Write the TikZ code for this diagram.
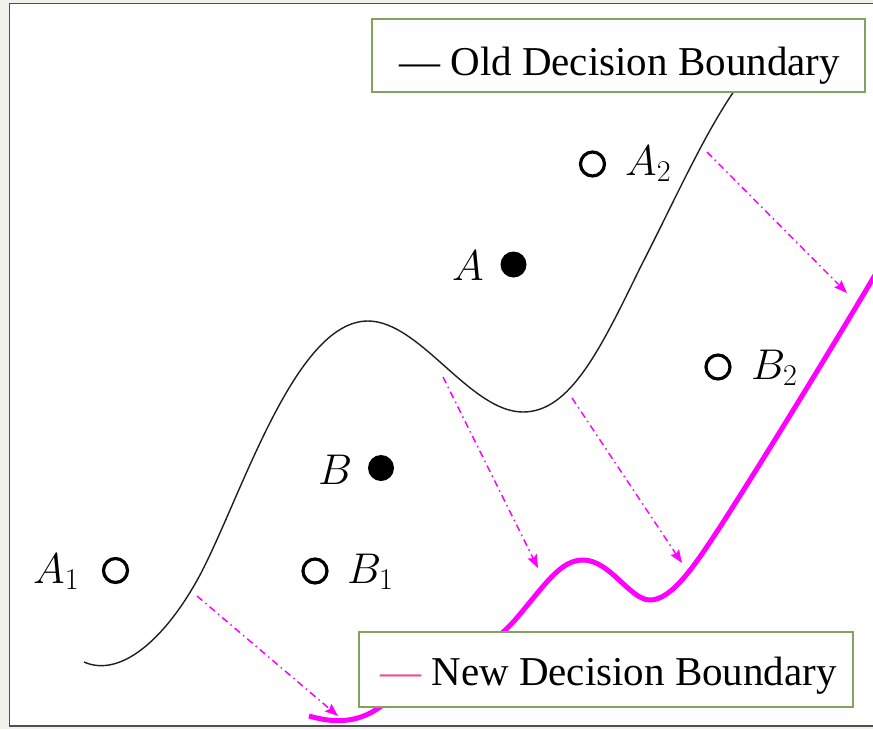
\RequirePackage{fix-cm}
\documentclass[tikz,border=0pt]{standalone}
\usepackage{fontspec}
\newfontfamily\legfont{Liberation Serif}
\usetikzlibrary{arrows.meta}
\definecolor{mag}{RGB}{255,0,255}
\definecolor{legpink}{RGB}{236,72,160}
\definecolor{leggreen}{RGB}{130,162,95}
\definecolor{beige}{RGB}{243,241,236}
\definecolor{framegray}{RGB}{80,80,80}
\begin{document}
\begin{tikzpicture}[x=1pt,y=-1pt,
  lab/.style={inner sep=0pt, font=\fontsize{43}{50}\selectfont},
  opendot/.style={circle, draw=black, line width=3.2pt, minimum size=24pt, inner sep=0pt, fill=white},
  filldot/.style={circle, fill=black, minimum size=26pt, inner sep=0pt},
  oldcurve/.style={line width=1.4pt, draw=black!88},
  newcurve/.style={line width=5pt, draw=mag},
  projarrow/.style={draw=mag, line width=1.5pt, dash pattern=on 7pt off 4pt on 1.5pt off 4pt,
     -{Stealth[length=13pt,width=10pt,inset=2pt]}},
  legbox/.style={draw=leggreen, line width=1.6pt, fill=white, inner sep=0pt},
  legtext/.style={inner sep=0pt, font=\legfont\fontsize{41}{48}\selectfont}
]
\useasboundingbox (0,0) rectangle (873,729);
% background and frame
\fill[beige] (0,0) rectangle (873,729);
\fill[white] (9.5,3.5) rectangle (873,726);
\draw[framegray, line width=1.6pt] (873,3.5) -- (9.5,3.5) -- (9.5,726) -- (873,726);

% old decision boundary
\draw[oldcurve] (84,662) .. controls (120,678) and (165,640) .. (200,575)
  .. controls (242,495) and (295,321) .. (368,321)
  .. controls (420,321) and (470,412) .. (523,412)
  .. controls (570,412) and (600,350) .. (640,268)
  .. controls (680,190) and (710,120) .. (748,72);

% new decision boundary
\draw[newcurve] (309,716) .. controls (330,722) and (355,725) .. (380,707)
  .. controls (420,680) and (480,660) .. (515,620)
  .. controls (545,585) and (560,560) .. (583,560)
  .. controls (610,560) and (630,600) .. (650,600)
  .. controls (672,600) and (695,565) .. (720,527)
  .. controls (760,465) and (840,335) .. (885,258);

% projection arrows
\coordinate (s1) at (197,596); \coordinate (t1) at (338,716);
\coordinate (s2) at (443,377); \coordinate (t2) at (538,568);
\coordinate (s3) at (572,398); \coordinate (t3) at (682,563);
\coordinate (s4) at (707,152); \coordinate (t4) at (847,293);
\draw[projarrow] (s1) -- (t1);
\draw[projarrow] (s2) -- (t2);
\draw[projarrow] (s3) -- (t3);
\draw[projarrow] (s4) -- (t4);

% points
\node[opendot] (cA1) at (115.5,570.5) {};
\node[opendot] (cB1) at (315,571) {};
\node[opendot] (cA2) at (592.5,164) {};
\node[opendot] (cB2) at (718,367) {};
\node[filldot] (cA) at (513.5,264.5) {};
\node[filldot] (cB) at (381,468) {};

\node[lab, anchor=base west] (lA1) at (33,583) {$A_1$};
\node[lab, anchor=base west] (lB1) at (347,583) {$B_1$};
\node[lab, anchor=base west] (lA2) at (625,175) {$A_2$};
\node[lab, anchor=base west] (lB2) at (751,379) {$B_2$};
\node[lab, anchor=base west] (lA) at (452,280) {$A$};
\node[lab, anchor=base west] (lB) at (318,484) {$B$};

% legends
\node[legbox, minimum width=493pt, minimum height=73pt] (oldbox) at (618.5,55.5) {};
\node[legtext, anchor=base] (oldtxt) at (619.5,75) {—\ Old Decision Boundary};
\node[legbox, minimum width=494pt, minimum height=75pt] (newbox) at (606,669.5) {};
\node[legtext, anchor=base] (newtxt) at (608.5,685) {\textcolor{legpink}{—}\ New Decision Boundary};
\end{tikzpicture}
\end{document}
